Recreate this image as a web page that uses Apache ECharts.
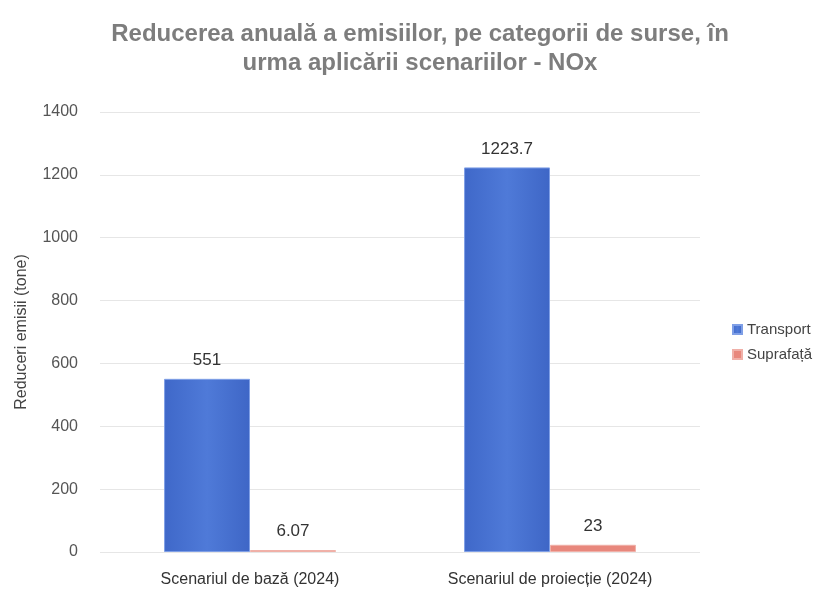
<!DOCTYPE html>
<html><head><meta charset="utf-8">
<script src="https://cdn.jsdelivr.net/npm/echarts@6/dist/echarts.min.js"></script>
<style>html,body{margin:0;padding:0;background:#fff}#c{width:835px;height:595px}</style>
</head><body><div id="c"></div>
<script>
const categories = ['Scenariul de bază (2024)', 'Scenariul de proiecție (2024)'];
const transport = [551, 1223.7];
const suprafata = [6.07, 23];
const yTicks = [0, 200, 400, 600, 800, 1000, 1200, 1400];
const seriesNames = ['Transport', 'Suprafață'];

const FONT = "'Liberation Sans Narrow', 'Arial Narrow', 'Liberation Sans', Arial, sans-serif";
const chart = echarts.init(document.getElementById('c'));
chart.setOption({
  backgroundColor: '#fff',
  title: {
    text: 'Reducerea anuală a emisiilor, pe categorii de surse, în\nurma aplicării scenariilor - NOx',
    left: 415, top: 15, textAlign: 'center',
    textStyle: { fontFamily: FONT, fontSize: 24, fontWeight: 'bold', color: '#7d7d7d', lineHeight: 29 }
  },
  legend: {
    orient: 'vertical', left: 727, top: 317, itemGap: 10,
    itemWidth: 9, itemHeight: 9, icon: 'rect',
    textStyle: { fontFamily: FONT, fontSize: 15, color: '#444' },
    data: seriesNames
  },
  grid: { left: 100, right: 135, top: 112, bottom: 43 },
  xAxis: {
    type: 'category', data: categories,
    axisLine: { show: false }, axisTick: { show: false },
    axisLabel: { fontFamily: FONT, fontSize: 16, color: '#333', margin: 20 }
  },
  yAxis: {
    type: 'value', min: yTicks[0], max: yTicks[yTicks.length - 1], interval: 200,
    name: 'Reduceri emisii (tone)', nameLocation: 'middle', nameGap: 70, nameRotate: 90,
    nameTextStyle: { fontFamily: FONT, fontSize: 16, color: '#444' },
    axisLabel: { fontFamily: FONT, fontSize: 16, color: '#555', margin: 22, formatter: v => String(v) },
    axisLine: { show: false }, axisTick: { show: false },
    splitLine: { lineStyle: { color: '#e6e6e6', width: 1 } }
  },
  series: [
    {
      name: seriesNames[0], type: 'bar', data: transport, barGap: '0%', barCategoryGap: '42.7%',
      itemStyle: {
        color: new echarts.graphic.LinearGradient(0, 0, 1, 0, [
          { offset: 0, color: '#3f68c9' }, { offset: 0.5, color: '#4f7ad8' }, { offset: 1, color: '#3e66c6' }
        ]),
        borderColor: '#7f9fe6', borderWidth: 1
      },
      label: { show: true, position: 'top', distance: 10, fontFamily: FONT, fontSize: 17, color: '#333' }
    },
    {
      name: seriesNames[1], type: 'bar', data: suprafata,
      itemStyle: { color: '#e8877c', borderColor: '#f0b0a8', borderWidth: 1 },
      label: { show: true, position: 'top', distance: 10, fontFamily: FONT, fontSize: 17, color: '#333' }
    }
  ]
});
</script></body></html>
